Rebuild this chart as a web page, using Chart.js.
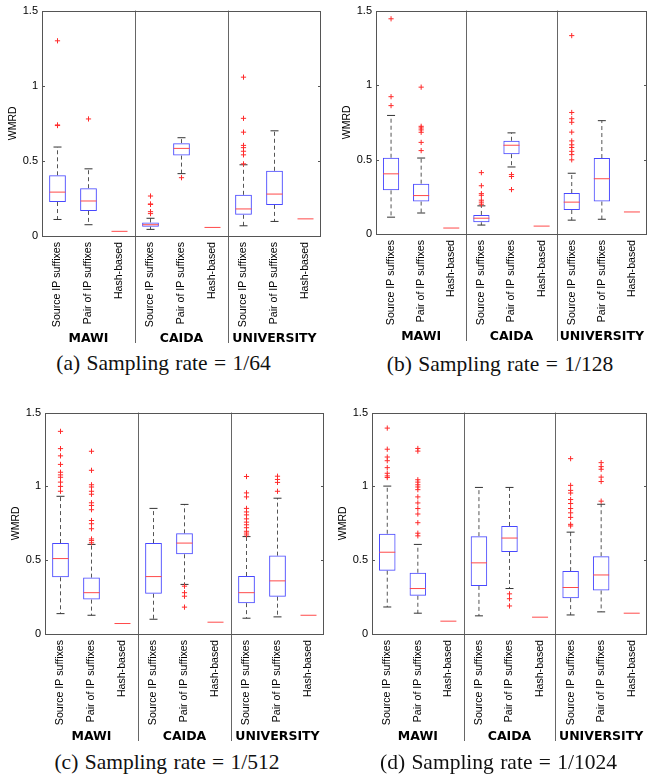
<!DOCTYPE html>
<html>
<head>
<meta charset="utf-8">
<script src="https://cdn.jsdelivr.net/npm/chart.js@4.4.1/dist/chart.umd.min.js"></script>
<style>
  html, body { margin: 0; padding: 0; background: #fff; }
  #wrap { position: relative; width: 656px; height: 780px; overflow: hidden; background: #fff; }
  canvas { position: absolute; }
  .cap { position: absolute; width: 320px; text-align: center; font-family: "Liberation Serif", "DejaVu Serif", serif; font-size: 21.5px; word-spacing: 1px; line-height: 24px; color: #111; white-space: nowrap; }
</style>
</head>
<body>
<div id="wrap"></div>
<script>
// ---------- data ----------
const categories = ['Source IP suffixes', 'Pair of IP suffixes', 'Hash-based',
                    'Source IP suffixes', 'Pair of IP suffixes', 'Hash-based',
                    'Source IP suffixes', 'Pair of IP suffixes', 'Hash-based'];
const groups = ['MAWI', 'CAIDA', 'UNIVERSITY'];
const yTicks = [0, 0.5, 1, 1.5];
const captions = ['(a) Sampling rate = 1/64', '(b) Sampling rate = 1/128',
                  '(c) Sampling rate = 1/512', '(d) Sampling rate = 1/1024'];

// (a) 1/64
const a_q1  = [0.226, 0.167, 0.031, 0.062, 0.535, 0.057, 0.141, 0.207, 0.114];
const a_med = [0.292, 0.233, 0.031, 0.075, 0.583, 0.057, 0.180, 0.279, 0.114];
const a_q3  = [0.404, 0.318, 0.031, 0.090, 0.618, 0.057, 0.274, 0.434, 0.114];
const a_lo  = [0.110, 0.075, 0.031, 0.044, 0.415, 0.057, 0.068, 0.097, 0.114];
const a_hi  = [0.592, 0.447, 0.031, 0.118, 0.654, 0.057, 0.474, 0.700, 0.114];
const a_out = [[1.299, 0.739, 0.735], [0.779], [], [0.266, 0.213, 0.210, 0.162, 0.149], [0.388], [],
               [1.057, 0.783, 0.691, 0.603, 0.588, 0.564, 0.540, 0.480], [], []];

// (b) 1/128
const b_q1  = [0.293, 0.218, 0.040, 0.079, 0.536, 0.053, 0.161, 0.218, 0.148];
const b_med = [0.404, 0.258, 0.040, 0.106, 0.596, 0.053, 0.214, 0.371, 0.148];
const b_q3  = [0.512, 0.338, 0.040, 0.128, 0.626, 0.053, 0.275, 0.510, 0.148];
const b_lo  = [0.113, 0.141, 0.040, 0.060, 0.450, 0.053, 0.093, 0.099, 0.148];
const b_hi  = [0.796, 0.510, 0.040, 0.189, 0.679, 0.053, 0.408, 0.761, 0.148];
const b_out = [[1.445, 0.922, 0.862], [0.986, 0.723, 0.712, 0.699, 0.683, 0.615, 0.560], [],
               [0.412, 0.324, 0.271, 0.260, 0.227, 0.214, 0.200], [0.399, 0.386, 0.298], [],
               [1.332, 0.816, 0.774, 0.750, 0.684, 0.625, 0.599, 0.581, 0.555, 0.533, 0.498], [], []];

// (c) 1/512
const c_q1  = [0.384, 0.233, 0.071, 0.273, 0.540, 0.080, 0.209, 0.253, 0.127];
const c_med = [0.511, 0.280, 0.071, 0.389, 0.616, 0.080, 0.280, 0.360, 0.127];
const c_q3  = [0.616, 0.382, 0.071, 0.616, 0.682, 0.080, 0.393, 0.531, 0.127];
const c_lo  = [0.138, 0.127, 0.071, 0.100, 0.336, 0.080, 0.107, 0.116, 0.127];
const c_hi  = [0.933, 0.607, 0.071, 0.851, 0.878, 0.080, 0.660, 0.920, 0.127];
const c_out = [[1.373, 1.256, 1.207, 1.149, 1.096, 1.078, 1.062, 1.029, 1.000, 0.967],
               [1.238, 1.109, 1.011, 0.996, 0.967, 0.947, 0.889, 0.871, 0.842, 0.769, 0.747, 0.713, 0.644, 0.633, 0.618],
               [], [], [0.324, 0.280, 0.256, 0.182], [],
               [1.067, 0.956, 0.929, 0.851, 0.827, 0.807, 0.780, 0.758, 0.740, 0.720, 0.696, 0.684, 0.671],
               [1.069, 1.047, 1.027, 0.967], []];

// (d) 1/1024
const d_q1  = [0.429, 0.259, 0.087, 0.326, 0.556, 0.114, 0.243, 0.295, 0.141];
const d_med = [0.554, 0.308, 0.087, 0.482, 0.650, 0.114, 0.315, 0.400, 0.141];
const d_q3  = [0.679, 0.415, 0.087, 0.663, 0.732, 0.114, 0.426, 0.527, 0.141];
const d_lo  = [0.183, 0.141, 0.087, 0.123, 0.308, 0.114, 0.129, 0.150, 0.141];
const d_hi  = [1.002, 0.607, 0.087, 0.993, 0.993, 0.114, 0.690, 0.879, 0.141];
const d_out = [[1.395, 1.252, 1.199, 1.174, 1.127, 1.089, 1.071, 1.060],
               [1.257, 1.239, 1.045, 1.029, 1.011, 0.996, 0.978, 0.929, 0.888, 0.850, 0.813, 0.754, 0.683, 0.665],
               [], [], [0.272, 0.239, 0.190], [],
               [1.188, 1.007, 0.973, 0.955, 0.911, 0.884, 0.850, 0.821, 0.790, 0.743, 0.732],
               [1.161, 1.134, 1.116, 1.063, 1.033, 0.900], []];

// ---------- layout (positions / styles) ----------
const panels = [
  { q1: a_q1, med: a_med, q3: a_q3, lo: a_lo, hi: a_hi, out: a_out, cap: captions[0],
    left: 0,   top: 0,   w: 330, padT: 8, padR: 9, plotH: 228, capX: 163.5, capY: 351 },
  { q1: b_q1, med: b_med, q3: b_q3, lo: b_lo, hi: b_hi, out: b_out, cap: captions[1],
    left: 334, top: 0,   w: 322, padT: 8, padR: 1, plotH: 226, capX: 500,   capY: 352 },
  { q1: c_q1, med: c_med, q3: c_q3, lo: c_lo, hi: c_hi, out: c_out, cap: captions[2],
    left: 3,   top: 402, w: 330, padT: 8, padR: 7, plotH: 224, capX: 167,   capY: 750 },
  { q1: d_q1, med: d_med, q3: d_q3, lo: d_lo, hi: d_hi, out: d_out, cap: captions[3],
    left: 330, top: 402, w: 326, padT: 8, padR: 4, plotH: 224, capX: 498.5, capY: 750 }
];

const Y_AXIS_W = 42, LABEL_H = 92, GROUP_H = 16;
const SANS = '"Liberation Sans", Arial, sans-serif';
const BOLD = '"DejaVu Sans", Verdana, sans-serif';

const framePlugin = {
  id: 'frame',
  afterDatasetsDraw(chart) {
    const { ctx, chartArea: a, scales } = chart;
    ctx.save();
    ctx.lineWidth = 1;
    // group dividers
    ctx.strokeStyle = '#666';
    const per = categories.length / groups.length;
    for (let g = 1; g < groups.length; g++) {
      const x = Math.round(scales.x.getPixelForValue(g * per - 0.5)) + 0.5;
      ctx.beginPath();
      ctx.moveTo(x, a.top);
      ctx.lineTo(x, scales.xg.bottom - 1);
      ctx.stroke();
    }
    // inward ticks
    ctx.strokeStyle = '#555';
    yTicks.forEach(v => {
      const y = Math.round(scales.y.getPixelForValue(v)) + 0.5;
      ctx.beginPath();
      ctx.moveTo(a.left, y); ctx.lineTo(a.left + 3, y);
      ctx.moveTo(a.right, y); ctx.lineTo(a.right - 3, y);
      ctx.stroke();
    });
    // box frame
    ctx.strokeStyle = '#555';
    ctx.strokeRect(Math.round(a.left) + 0.5, Math.round(a.top) + 0.5,
                   Math.round(a.right - a.left) - 1, Math.round(a.bottom - a.top));
    ctx.restore();
  }
};

const wrap = document.getElementById('wrap');

panels.forEach(p => {
  const canvas = document.createElement('canvas');
  const h = p.padT + p.plotH + LABEL_H + GROUP_H;
  canvas.width = p.w; canvas.height = h;
  canvas.style.left = p.left + 'px'; canvas.style.top = p.top + 'px';
  canvas.style.width = p.w + 'px'; canvas.style.height = h + 'px';
  wrap.appendChild(canvas);

  const cap = document.createElement('div');
  cap.className = 'cap';
  cap.textContent = p.cap;
  cap.style.left = (p.capX - 160) + 'px';
  cap.style.top = p.capY + 'px';
  wrap.appendChild(cap);

  const boxData = p.q1.map((v, i) => ({ x: i, y: [v, p.q3[i]] }));
  const medData = p.med.map((v, i) => ({ x: i, y: v }));
  const whiskData = [];
  const capData = [];
  p.q1.forEach((v, i) => {
    if (p.hi[i] > p.q3[i]) {
      whiskData.push({ x: i, y: p.q3[i] }, { x: i, y: p.hi[i] }, { x: i, y: null });
      capData.push({ x: i, y: p.hi[i] });
    }
    if (p.lo[i] < v) {
      whiskData.push({ x: i, y: v }, { x: i, y: p.lo[i] }, { x: i, y: null });
      capData.push({ x: i, y: p.lo[i] });
    }
  });
  const outData = [];
  p.out.forEach((arr, i) => arr.forEach(v => outData.push({ x: i, y: v })));

  const groupLabels = categories.map((_, i) =>
    (i % 3 === 1) ? groups[Math.floor(i / 3)] : '');

  new Chart(canvas, {
    type: 'bar',
    data: {
      datasets: [
        { type: 'line', label: 'outliers', data: outData, showLine: false,
          pointStyle: 'cross', pointRadius: 2.6, borderColor: '#ff2a2a', borderWidth: 1,
          backgroundColor: '#ff2a2a', order: 0 },
        { type: 'line', label: 'median', data: medData, showLine: false,
          pointStyle: 'line', pointRadius: 8, borderColor: '#ff4a4a', borderWidth: 1, order: 1 },
        { type: 'line', label: 'caps', data: capData, showLine: false,
          pointStyle: 'line', pointRadius: 4, borderColor: '#333', borderWidth: 1, order: 2 },
        { type: 'bar', label: 'box', data: boxData, backgroundColor: 'rgba(0,0,0,0)',
          borderColor: '#4848ff', borderWidth: 1, borderSkipped: false,
          barPercentage: 0.54, categoryPercentage: 1, grouped: false, order: 3 },
        { type: 'line', label: 'whiskers', data: whiskData, showLine: true, spanGaps: false,
          pointRadius: 0, borderColor: '#555', borderWidth: 1, borderDash: [4, 3],
          fill: false, tension: 0, order: 4 }
      ]
    },
    options: {
      responsive: false,
      animation: false,
      devicePixelRatio: 1,
      events: [],
      layout: { padding: { top: p.padT, right: p.padR, left: 0, bottom: 0 } },
      plugins: { legend: { display: false }, tooltip: { enabled: false }, title: { display: false } },
      scales: {
        x: { type: 'linear', display: false, min: -0.5, max: 8.5, offset: false,
             ticks: { stepSize: 1 }, grid: { display: false } },
        xl: { type: 'category', position: 'bottom', labels: categories, offset: true, weight: 0,
              grid: { display: false, drawTicks: false }, border: { display: false },
              ticks: { autoSkip: false, minRotation: 90, maxRotation: 90, padding: 6,
                       color: '#000', font: { family: SANS, size: 10.6 } },
              afterFit: s => { s.height = LABEL_H; } },
        xg: { type: 'category', position: 'bottom', labels: groupLabels, offset: true, weight: 1,
              grid: { display: false, drawTicks: false }, border: { display: false },
              ticks: { autoSkip: false, maxRotation: 0, minRotation: 0, padding: 3,
                       color: '#000', font: { family: BOLD, size: 12.5, weight: 'bold' } },
              afterFit: s => { s.height = GROUP_H; } },
        y: { type: 'linear', min: 0, max: 1.5,
             grid: { display: false, drawTicks: false }, border: { display: false },
             afterBuildTicks: s => { s.ticks = yTicks.map(v => ({ value: v })); },
             ticks: { padding: 4, color: '#000', font: { family: SANS, size: 11 },
                      callback: v => String(v) },
             title: { display: true, text: 'WMRD', color: '#000',
                      font: { family: SANS, size: 10.5 }, padding: { top: 7, bottom: 0 } },
             afterFit: s => { s.width = Y_AXIS_W; } }
      }
    },
    plugins: [framePlugin]
  });
});
</script>
</body>
</html>
